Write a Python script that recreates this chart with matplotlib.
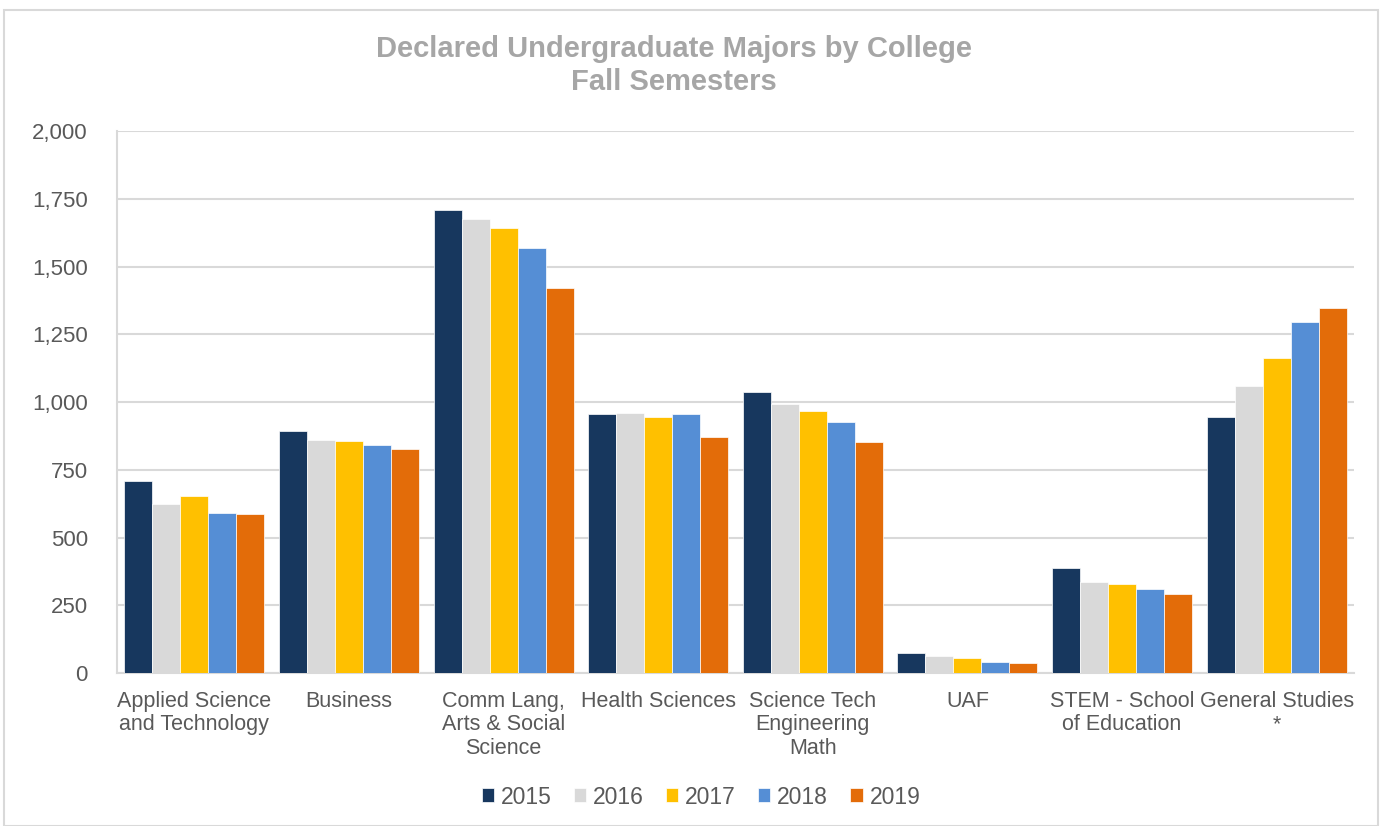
import matplotlib
matplotlib.use("Agg")
import matplotlib.pyplot as plt
import numpy as np
from matplotlib.patches import Rectangle

plt.rcParams['font.family'] = ['Liberation Sans', 'DejaVu Sans']

categories = ["Applied Science\nand Technology", "Business", "Comm Lang,\nArts & Social\nScience",
              "Health Sciences", "Science Tech\nEngineering\nMath", "UAF",
              "STEM - School\nof Education", "General Studies\n*"]
years = ["2015", "2016", "2017", "2018", "2019"]
v2015 = [708, 892, 1708, 955, 1036, 73, 389, 946]
v2016 = [625, 860, 1675, 958, 994, 62, 334, 1058]
v2017 = [653, 856, 1642, 943, 967, 54, 329, 1161]
v2018 = [589, 842, 1568, 955, 925, 39, 310, 1297]
v2019 = [586, 825, 1420, 870, 852, 38, 291, 1346]
series = [v2015, v2016, v2017, v2018, v2019]
colors = ["#17375E", "#D9D9D9", "#FFC000", "#558ED5", "#E36C09"]
yticks = [0, 250, 500, 750, 1000, 1250, 1500, 1750, 2000]

W, H = 1386, 826
fig = plt.figure(figsize=(W / 100, H / 100), dpi=100)
fig.patches.append(Rectangle((4 / W, 0), 1374 / W, (H - 10) / H, transform=fig.transFigure,
                             fill=False, edgecolor="#D9D9D9", linewidth=1.5))
ax = fig.add_axes([117 / W, 1 - 673 / H, (1354 - 117) / W, (673 - 131) / H])

x = np.arange(len(categories))
bw = 0.181
for i, (vals, c, yr) in enumerate(zip(series, colors, years)):
    ax.bar(x + (i - 2) * bw, vals, width=bw, color=c, edgecolor="white", linewidth=0.5,
           label=yr, zorder=3)

fs = 15.5
ax.set_xlim(-0.5, len(categories) - 0.5)
ax.set_ylim(0, 2000)
ax.set_yticks(yticks)
ax.set_yticklabels([f"{t:,}" for t in yticks])
ax.set_xticks(x)
ax.set_xticklabels(categories, linespacing=1.15)
ax.tick_params(axis='both', length=0, labelsize=fs, colors="#595959")
ax.tick_params(axis='y', labelsize=16, pad=21)
ax.tick_params(axis='x', pad=13)
ax.grid(axis='y', color="#D9D9D9", linewidth=1.5, zorder=0)
for s in ['top', 'right']:
    ax.spines[s].set_visible(False)
ax.spines['left'].set_color("#D9D9D9")
ax.spines['bottom'].set_color("#D9D9D9")
ax.spines['left'].set_linewidth(1.5)
ax.spines['bottom'].set_linewidth(1.5)

fig.text(674 / W, 1 - 65.5 / H, "Declared Undergraduate Majors by College\nFall Semesters",
         ha='center', va='center', fontsize=21, fontweight='bold', color="#A6A6A6",
         linespacing=1.25)

leg = fig.legend(loc='center', bbox_to_anchor=(701 / W, 1 - 797 / H), ncol=5, frameon=False,
                 fontsize=16.5, handlelength=0.55, handleheight=0.55, handletextpad=0.3,
                 columnspacing=0.95, labelcolor="#595959")

fig.savefig("out.png", dpi=100)
